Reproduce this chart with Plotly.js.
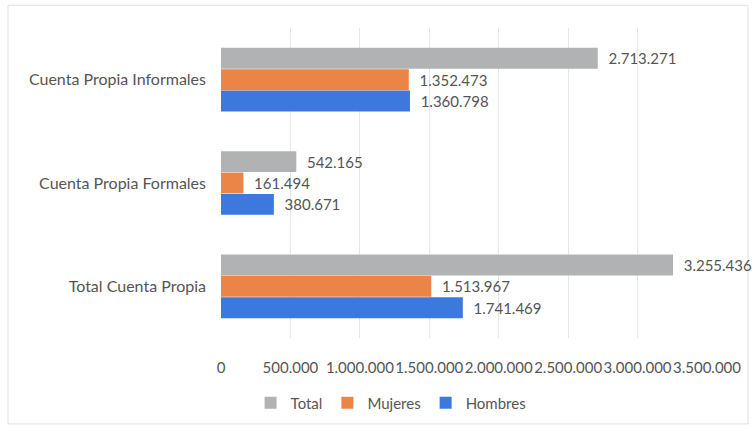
<!DOCTYPE html>
<html>
<head>
<meta charset="utf-8">
<script src="https://cdn.plot.ly/plotly-3.0.1.min.js"></script>
<style>
html,body{margin:0;padding:0;background:#fff;}
#chart{width:755px;height:431px;}
</style>
</head>
<body>
<div id="chart"></div>
<script>
const categories = ["Total Cuenta Propia", "Cuenta Propia Formales", "Cuenta Propia Informales"];
const totalValues = [3255436, 542165, 2713271];
const mujeresValues = [1513967, 161494, 1352473];
const hombresValues = [1741469, 380671, 1360798];
const tickValues = [0, 500000, 1000000, 1500000, 2000000, 2500000, 3000000, 3500000];
const tickLabels = ["0", "500.000", "1.000.000", "1.500.000", "2.000.000", "2.500.000", "3.000.000", "3.500.000"];

const FONT = "Lato, 'Open Sans', sans-serif";
const GRAY_TEXT = "#555555";

function series(name, values, color) {
  return {
    type: "bar",
    orientation: "h",
    name: name,
    y: categories,
    x: values,
    marker: {color: color},
    texttemplate: "\u00a0\u00a0%{x:,d}",
    textposition: "outside",
    cliponaxis: false,
    textfont: {family: FONT, size: 15, color: GRAY_TEXT},
    hoverinfo: "x+name"
  };
}

const data = [
  series("Hombres", hombresValues, "#3D78DC"),
  series("Mujeres", mujeresValues, "#EB8547"),
  series("Total", totalValues, "#B0B2B3")
];

const layout = {
  width: 755,
  height: 431,
  margin: {l: 221, r: 48, t: 28, b: 89},
  separators: ",.",
  barmode: "group",
  bargap: 0.38,
  bargroupgap: 0.02,
  paper_bgcolor: "#ffffff",
  plot_bgcolor: "#ffffff",
  showlegend: true,
  legend: {
    orientation: "h",
    traceorder: "reversed",
    x: 0.35, xanchor: "center",
    y: -0.21, yanchor: "middle",
    font: {family: FONT, size: 15, color: GRAY_TEXT},
    itemwidth: 30
  },
  xaxis: {
    range: [0, 3500000],
    tickvals: tickValues,
    ticktext: tickLabels,
    tickangle: 0,
    showgrid: true,
    gridcolor: "#E6E6E6",
    zeroline: false,
    showline: false,
    ticks: "",
    tickfont: {family: FONT, size: 15, color: GRAY_TEXT},
    ticklabelstandoff: 19,
    fixedrange: true
  },
  yaxis: {
    type: "category",
    categoryorder: "array",
    categoryarray: categories,
    range: [-0.5, 2.5],
    showgrid: false,
    zeroline: false,
    showline: false,
    ticks: "",
    tickfont: {family: FONT, size: 16, color: GRAY_TEXT},
    ticklabelstandoff: 14,
    fixedrange: true
  },
  shapes: [{
    type: "rect", xref: "paper", yref: "paper",
    x0: (8 - 221) / 486, x1: 1 + (748 - 707) / 486,
    y0: -(429 - 342) / 314, y1: 1 + (28 - 5) / 314,
    line: {color: "#E0E0E0", width: 1},
    fillcolor: "rgba(0,0,0,0)",
    layer: "below"
  }]
};

Plotly.newPlot("chart", data, layout, {displayModeBar: false, staticPlot: true});
</script>
</body>
</html>
